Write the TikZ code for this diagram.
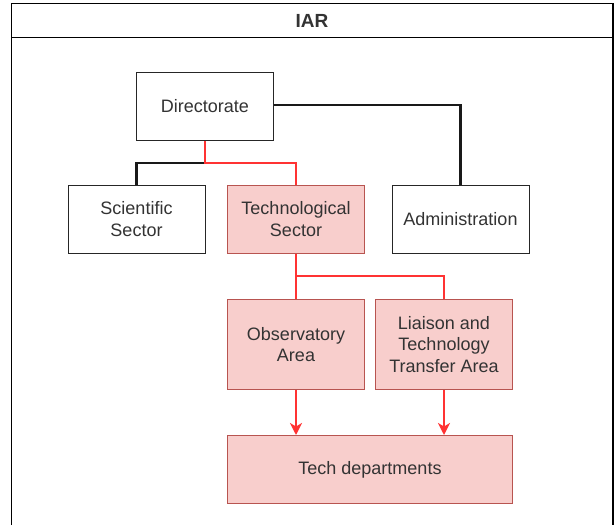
\documentclass[tikz,border=0pt]{standalone}
\usepackage{fontspec}
\setmainfont{Liberation Sans}
\usetikzlibrary{arrows.meta}
\definecolor{rfill}{HTML}{F8CECC}
\definecolor{rdraw}{HTML}{B85450}
\definecolor{rline}{HTML}{FF3333}
\definecolor{txt}{HTML}{333333}
\tikzset{
  box/.style={draw=black!85, line width=1pt, fill=white, minimum width=137pt, minimum height=68pt,
    align=center, text=txt, font=\fontsize{18}{21.6}\selectfont, inner sep=0pt},
  redbox/.style={box, draw=rdraw, fill=rfill},
  blk/.style={draw=black!90, line width=2.4pt},
  red/.style={draw=rline, line width=2.5pt},
  redarrow/.style={red, -{Stealth[length=12pt,width=12pt,inset=3.5pt]}},
  frame/.style={draw=black, line width=1.4pt}
}
\begin{document}
\begin{tikzpicture}[x=1pt,y=-1pt]
\useasboundingbox (0,0) rectangle (616,525);
\fill[white] (0,0) rectangle (616,525);
% container
\draw[frame] (11.7,525) -- (11.7,3.7) -- (613,3.7) -- (613,525);
\draw[frame] (11.7,37.3) -- (613,37.3);
\node[font=\bfseries\fontsize{19}{22}\selectfont, text=txt] (title) at (312,21) {IAR};
% nodes
\node[box] (dir) at (205,106) {Directorate};
\node[box] (sci) at (136.5,219) {Scientific\\Sector};
\node[redbox] (tech) at (296,219) {Technological\\Sector};
\node[box] (adm) at (460.5,219) {Administration};
\node[redbox, minimum height=90pt] (obs) at (296,344.5) {Observatory\\Area};
\node[redbox, minimum height=90pt] (lia) at (444,344.5) {Liaison and\\Technology\\Transfer Area};
\node[redbox, minimum width=285pt] (dep) at (370,469.5) {Tech departments};
% junctions
\coordinate (j1) at (205,163);
\coordinate (j2) at (296,276);
% connectors
\draw[blk] (j1) -| (sci.north);
\draw[blk] (dir.east |- 0,105) -| (adm.north);
\draw[red] (dir.south) -- (j1) -| (tech.north);
\draw[red] (tech.south) -- (j2) -- (obs.north);
\draw[red] (j2) -| (lia.north);
\draw[redarrow] (obs.south) -- (dep.north -| obs.south);
\draw[redarrow] (lia.south) -- (dep.north -| lia.south);
\end{tikzpicture}
\end{document}
